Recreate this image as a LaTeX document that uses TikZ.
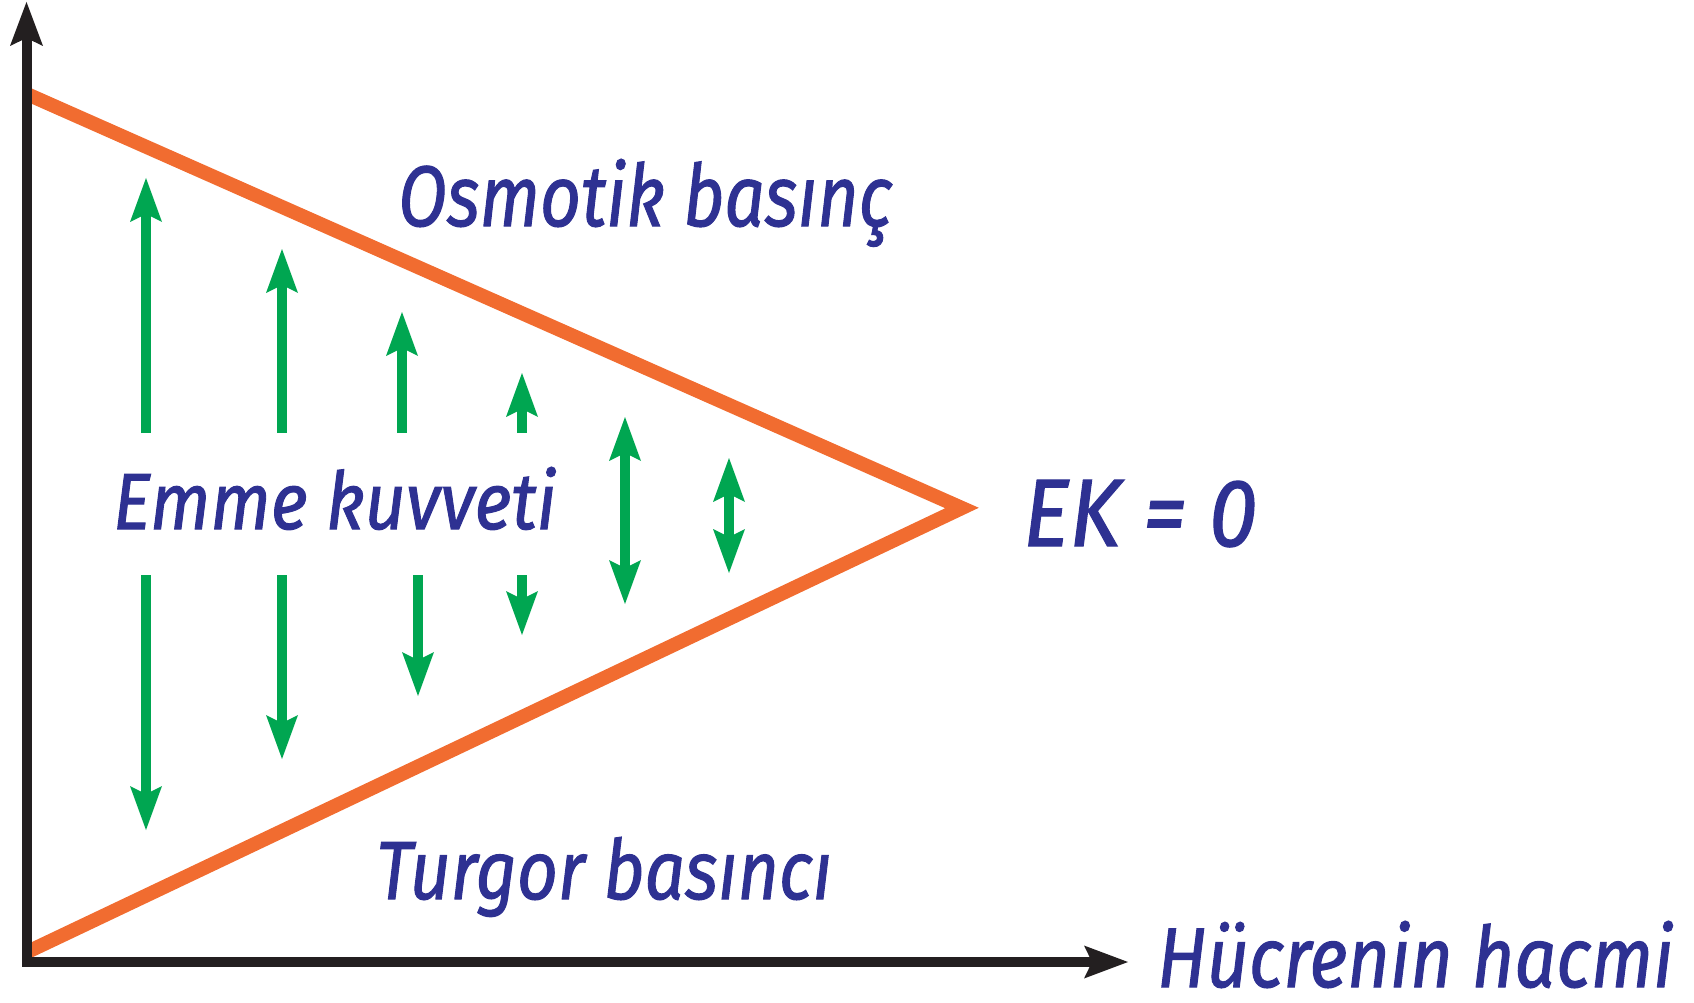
\documentclass[tikz,border=0pt]{standalone}
\usepackage{fontspec}
\setmainfont{Fira Sans}[ItalicFeatures={FakeBold=1.3}]
\usetikzlibrary{arrows.meta}
\definecolor{ggreen}{RGB}{0,166,81}
\definecolor{gorange}{RGB}{241,108,48}
\definecolor{gblue}{RGB}{46,49,146}
\definecolor{gblack}{RGB}{35,31,32}
\tikzset{
  gtip/.tip={Stealth[length=44pt,width=32pt,inset=8pt,line width=0pt]},
  ktip/.tip={Stealth[length=44pt,width=33pt,inset=8pt,line width=0pt]},
  garrow/.style={draw=ggreen, line width=10pt},
  axisline/.style={draw=gblack, line width=10pt, line join=miter},
  orangeline/.style={draw=gorange, line width=14pt, line join=miter, miter limit=10},
  lbl/.style={anchor=base west, inner sep=0pt, text=gblue, font=\itshape}
}
\newcommand{\fitlbl}[3]{\resizebox{#1pt}{#2pt}{#3}}
\begin{document}
\begin{tikzpicture}[x=1pt,y=-1pt]
\useasboundingbox (0,0) rectangle (1694,1003);
% orange triangle
\coordinate (A) at (26,93.6);
\coordinate (V) at (962,508);
\coordinate (B) at (26,952.6);
\draw[orangeline] (A) -- (V) -- (B);
% axes
\coordinate (O) at (26.5,962);
\coordinate (Y) at (26.5,2);
\coordinate (X) at (1128,962);
\draw[axisline, ktip-ktip] (Y) -- (O) -- (X);
% up arrows
\coordinate (u1a) at (146,433); \coordinate (u1b) at (146,178);
\coordinate (u2a) at (282,433); \coordinate (u2b) at (282,249);
\coordinate (u3a) at (402,433); \coordinate (u3b) at (402,312);
\coordinate (u4a) at (522,433); \coordinate (u4b) at (522,373);
\draw[garrow,-gtip] (u1a) -- (u1b);
\draw[garrow,-gtip] (u2a) -- (u2b);
\draw[garrow,-gtip] (u3a) -- (u3b);
\draw[garrow,-gtip] (u4a) -- (u4b);
% down arrows
\coordinate (d1a) at (146,575); \coordinate (d1b) at (146,830);
\coordinate (d2a) at (282,575); \coordinate (d2b) at (282,759);
\coordinate (d3a) at (418,575); \coordinate (d3b) at (418,696);
\coordinate (d4a) at (522,575); \coordinate (d4b) at (522,635);
\draw[garrow,-gtip] (d1a) -- (d1b);
\draw[garrow,-gtip] (d2a) -- (d2b);
\draw[garrow,-gtip] (d3a) -- (d3b);
\draw[garrow,-gtip] (d4a) -- (d4b);
% double arrows
\coordinate (b5a) at (625,417); \coordinate (b5b) at (625,604);
\coordinate (b6a) at (729,458); \coordinate (b6b) at (729,573);
\draw[garrow,gtip-gtip] (b5a) -- (b5b);
\draw[garrow,gtip-gtip] (b6a) -- (b6b);
% labels
\node[lbl] (osm) at (398,226) {\fitlbl{494}{67}{Osmotik basınç}};
\node[lbl] (emme) at (113,529) {\fitlbl{443}{62}{Emme kuvveti}};
\node[lbl] (turg) at (376,899) {\fitlbl{456}{62}{Turgor basıncı}};
\node[lbl] (ek) at (1023,546) {\fitlbl{234}{66}{EK = 0}};
\node[lbl] (huc) at (1157,987) {\fitlbl{516}{66}{Hücrenin hacmi}};
\end{tikzpicture}
\end{document}
